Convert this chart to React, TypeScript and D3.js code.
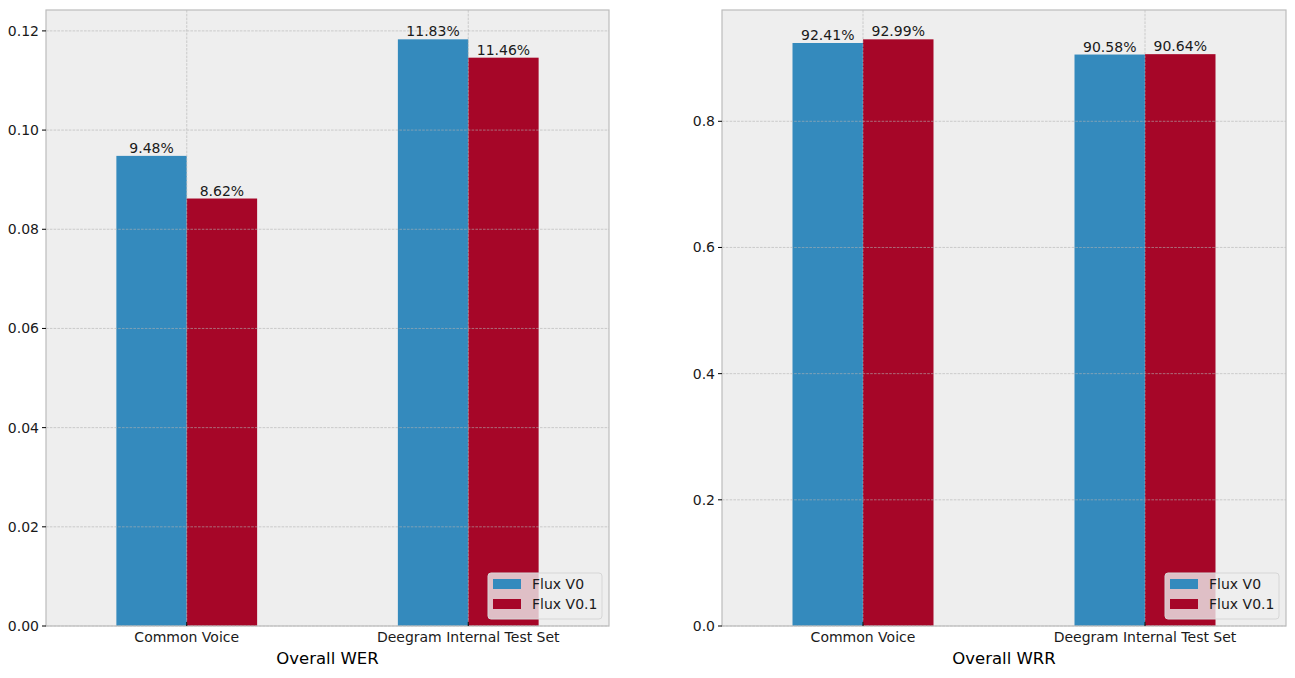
import { useEffect, useRef } from "react";
import * as d3 from "d3";

const categories = ["Common Voice", "Deegram Internal Test Set"];
const seriesNames = ["Flux V0", "Flux V0.1"];
const werV0 = [0.0948, 0.1183];
const werV01 = [0.0862, 0.1146];
const wrrV0 = [0.9241, 0.9058];
const wrrV01 = [0.9299, 0.9064];
const werTicks = [0.0, 0.02, 0.04, 0.06, 0.08, 0.1, 0.12];
const wrrTicks = [0.0, 0.2, 0.4, 0.6, 0.8];

const colours = ["#348ABD", "#A60628"];
const FONT = "DejaVu Sans, sans-serif";
const FS = 14;

export default function App() {
  const svgRef = useRef<SVGSVGElement>(null);

  useEffect(() => {
    if (!svgRef.current) return;
    const svg = d3.select(svgRef.current);
    svg.selectAll("*").remove();

    const panels = [
      { left: 46, right: 609, label: "Overall WER", v0: werV0, v1: werV01, ticks: werTicks, fmt: d3.format(".2f") },
      { left: 722, right: 1286, label: "Overall WRR", v0: wrrV0, v1: wrrV01, ticks: wrrTicks, fmt: d3.format(".1f") },
    ];
    const top = 10, bottom = 626;

    panels.forEach(p => {
      const maxV = Math.max(...p.v0, ...p.v1) * 1.05;
      const x = d3.scaleLinear().domain([-0.5, categories.length - 0.5]).range([p.left, p.right]);
      const y = d3.scaleLinear().domain([0, maxV]).range([bottom, top]);
      const g = svg.append("g");

      g.append("rect")
        .attr("x", p.left).attr("y", top)
        .attr("width", p.right - p.left).attr("height", bottom - top)
        .attr("fill", "#eeeeee");

      const barW = 0.25;
      const series = [p.v0, p.v1];
      series.forEach((vals, si) => {
        g.selectAll(null)
          .data(vals)
          .enter()
          .append("rect")
          .attr("x", (_, i) => x(i - barW + si * barW))
          .attr("y", d => y(d))
          .attr("width", x(barW) - x(0))
          .attr("height", d => y(0) - y(d))
          .attr("fill", colours[si]);
      });

      // grid (drawn above bars)
      g.selectAll(null)
        .data(p.ticks)
        .enter()
        .append("line")
        .attr("x1", p.left).attr("x2", p.right)
        .attr("y1", d => y(d)).attr("y2", d => y(d))
        .attr("stroke", "#b2b2b2").attr("stroke-width", 0.6)
        .attr("stroke-dasharray", "2.6,1.2");
      g.selectAll(null)
        .data(categories)
        .enter()
        .append("line")
        .attr("x1", (_, i) => x(i)).attr("x2", (_, i) => x(i))
        .attr("y1", top).attr("y2", bottom)
        .attr("stroke", "#b2b2b2").attr("stroke-width", 0.6)
        .attr("stroke-dasharray", "2.6,1.2");

      // bar labels
      series.forEach((vals, si) => {
        g.selectAll(null)
          .data(vals)
          .enter()
          .append("text")
          .attr("x", (_, i) => x(i - barW / 2 + si * barW))
          .attr("y", d => y(d) - 3)
          .attr("text-anchor", "middle")
          .attr("font-family", FONT)
          .attr("font-size", FS)
          .attr("fill", "#1a1a1a")
          .text(d => (d * 100).toFixed(2) + "%");
      });

      // frame
      g.append("rect")
        .attr("x", p.left).attr("y", top)
        .attr("width", p.right - p.left).attr("height", bottom - top)
        .attr("fill", "none").attr("stroke", "#bcbcbc").attr("stroke-width", 1.2);

      // y ticks
      const yt = g.selectAll(null).data(p.ticks).enter().append("g");
      yt.append("line")
        .attr("x1", p.left - 4).attr("x2", p.left)
        .attr("y1", d => y(d)).attr("y2", d => y(d))
        .attr("stroke", "#000").attr("stroke-width", 1);
      yt.append("text")
        .attr("x", p.left - 7)
        .attr("y", d => y(d))
        .attr("dy", "0.35em")
        .attr("text-anchor", "end")
        .attr("font-family", FONT)
        .attr("font-size", FS)
        .attr("fill", "#1a1a1a")
        .text(d => p.fmt(d));

      // x ticks
      const xt = g.selectAll(null).data(categories).enter().append("g");
      xt.append("line")
        .attr("x1", (_, i) => x(i)).attr("x2", (_, i) => x(i))
        .attr("y1", bottom - 4).attr("y2", bottom)
        .attr("stroke", "#000").attr("stroke-width", 1);
      xt.append("text")
        .attr("x", (_, i) => x(i))
        .attr("y", bottom + 16)
        .attr("text-anchor", "middle")
        .attr("font-family", FONT)
        .attr("font-size", FS)
        .attr("fill", "#1a1a1a")
        .text(d => d);

      g.append("text")
        .attr("x", (p.left + p.right) / 2)
        .attr("y", bottom + 38)
        .attr("text-anchor", "middle")
        .attr("font-family", FONT)
        .attr("font-size", 16.5)
        .attr("fill", "#000")
        .text(p.label);

      // legend
      const lw = 114, lh = 46;
      const lx = p.right - 7 - lw, ly = bottom - 7 - lh;
      const lg = g.append("g");
      lg.append("rect")
        .attr("x", lx).attr("y", ly)
        .attr("width", lw).attr("height", lh)
        .attr("rx", 3)
        .attr("fill", "#eeeeee").attr("fill-opacity", 0.8)
        .attr("stroke", "#d6d6d6").attr("stroke-width", 1);
      seriesNames.forEach((name, si) => {
        lg.append("rect")
          .attr("x", lx + 5).attr("y", ly + 6 + si * 20)
          .attr("width", 28).attr("height", 10)
          .attr("fill", colours[si]);
        lg.append("text")
          .attr("x", lx + 44).attr("y", ly + 11 + si * 20)
          .attr("dy", "0.35em")
          .attr("font-family", FONT)
          .attr("font-size", FS)
          .attr("fill", "#1a1a1a")
          .text(name);
      });
    });
  }, []);

  return (
    <div style={{ position: "absolute", left: 0, top: 0 }}>
      <svg ref={svgRef} width={1295} height={678} style={{ display: "block", background: "#fff" }}></svg>
    </div>
  );
}
